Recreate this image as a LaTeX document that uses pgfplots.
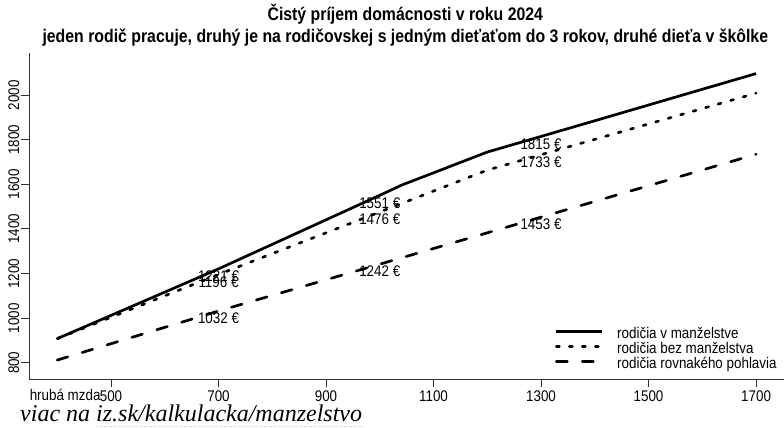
\documentclass[border=0pt]{standalone}
\usepackage{fontspec}
\setmainfont{Liberation Sans}[FakeStretch=0.87]
\newfontfamily\linkfont{Liberation Serif}
\usepackage{pgfplots}
\pgfplotsset{compat=1.18}
\newcommand\lab{\fontsize{15.4bp}{18bp}\selectfont}
\newcommand\ttl{\bfseries\fontsize{18.2bp}{22bp}\selectfont}

\begin{document}
\begin{tikzpicture}
\useasboundingbox (-29.3bp,-49bp) rectangle (754.7bp,379bp);
\begin{axis}[
    at={(0,0)}, anchor=south west,
    scale only axis,
    width=754.7bp, height=325.7bp,
    xmin=348, xmax=1752,
    ymin=727, ymax=2188,
    axis x line*=bottom, axis y line*=left,
    axis line style={black!80, line width=1bp, -},
    xtick={500,700,...,1700},
    ytick={800,1000,...,2000},
    tick align=outside,
    major tick length=8bp,
    tick style={black!80, line width=1bp},
    /pgf/number format/assume math mode=true,
    /pgf/number format/set thousands separator={},
    ticklabel style={font=\lab},
    yticklabel style={rotate=90, anchor=south, yshift=-1.5bp},
    clip=false,
    legend style={draw=none, fill=none, inner sep=0pt, outer sep=0pt,
        at={(0.6966,0.158)}, anchor=north west,
        font=\lab, column sep=0bp,
        nodes={inner sep=0pt, text height=11bp, text depth=4bp}},
    legend cell align=left,
    legend image code/.code={\draw[#1] (0bp,0.35em) -- (46bp,0.35em);},
]
% labels first, so the lines cover them as in the reference
\addplot[forget plot, draw=none, nodes near coords, point meta=explicit symbolic,
    nodes near coords style={font=\lab, anchor=center, yshift=-7.5bp, inner sep=0pt}]
    coordinates {
    (700,1221) [1221 €]
    (700,1196) [1196 €]
    (700,1032) [1032 €]
    (1000,1551) [1551 €]
    (1000,1476) [1476 €]
    (1000,1242) [1242 €]
    (1300,1815) [1815 €]
    (1300,1733) [1733 €]
    (1300,1453) [1453 €]
};

\addplot[black, line width=2.7bp, line join=round] coordinates {
    (400,908) (700,1221) (1000,1551) (1040,1596) (1200,1745) (1300,1815) (1700,2097)
};
\addlegendentry{\hspace{13.5bp}rodičia v manželstve}

\addplot[black, line width=2.7bp, line cap=round, dash pattern=on 3bp off 10bp] coordinates {
    (400,908) (700,1196) (1000,1476) (1200,1664) (1300,1733) (1700,2009)
};
\addlegendentry{\hspace{13.5bp}rodičia bez manželstva}

\addplot[black, line width=2.7bp, line cap=round, dash pattern=on 11bp off 15bp] coordinates {
    (400,812) (700,1032) (1000,1242) (1300,1453) (1700,1735)
};
\addlegendentry{\hspace{13.5bp}rodičia rovnakého pohlavia}

\node[anchor=base east, font=\lab, inner sep=0pt] at (axis cs:500,727) [xshift=-10.3bp, yshift=-21bp] {hrubá mzda};
\end{axis}

\node[anchor=base, font=\ttl, inner sep=0pt] at (376bp,358.5bp) {Čistý príjem domácnosti v roku 2024};
\node[anchor=base, font=\ttl, inner sep=0pt] at (376bp,336.5bp) {jeden rodič pracuje, druhý je na rodičovskej s jedným dieťaťom do 3 rokov, druhé dieťa v škôlke};
\node[anchor=base west, inner sep=0pt, font=\linkfont\itshape\fontsize{24bp}{28bp}\selectfont] at (-9.3bp,-42bp) {viac na iz.sk/kalkulacka/manzelstvo};
\draw[gray!45, line width=0.6bp, dash pattern=on 1bp off 1.5bp] (66.7bp,-47.5bp) -- (332.7bp,-47.5bp);
\end{tikzpicture}
\end{document}
